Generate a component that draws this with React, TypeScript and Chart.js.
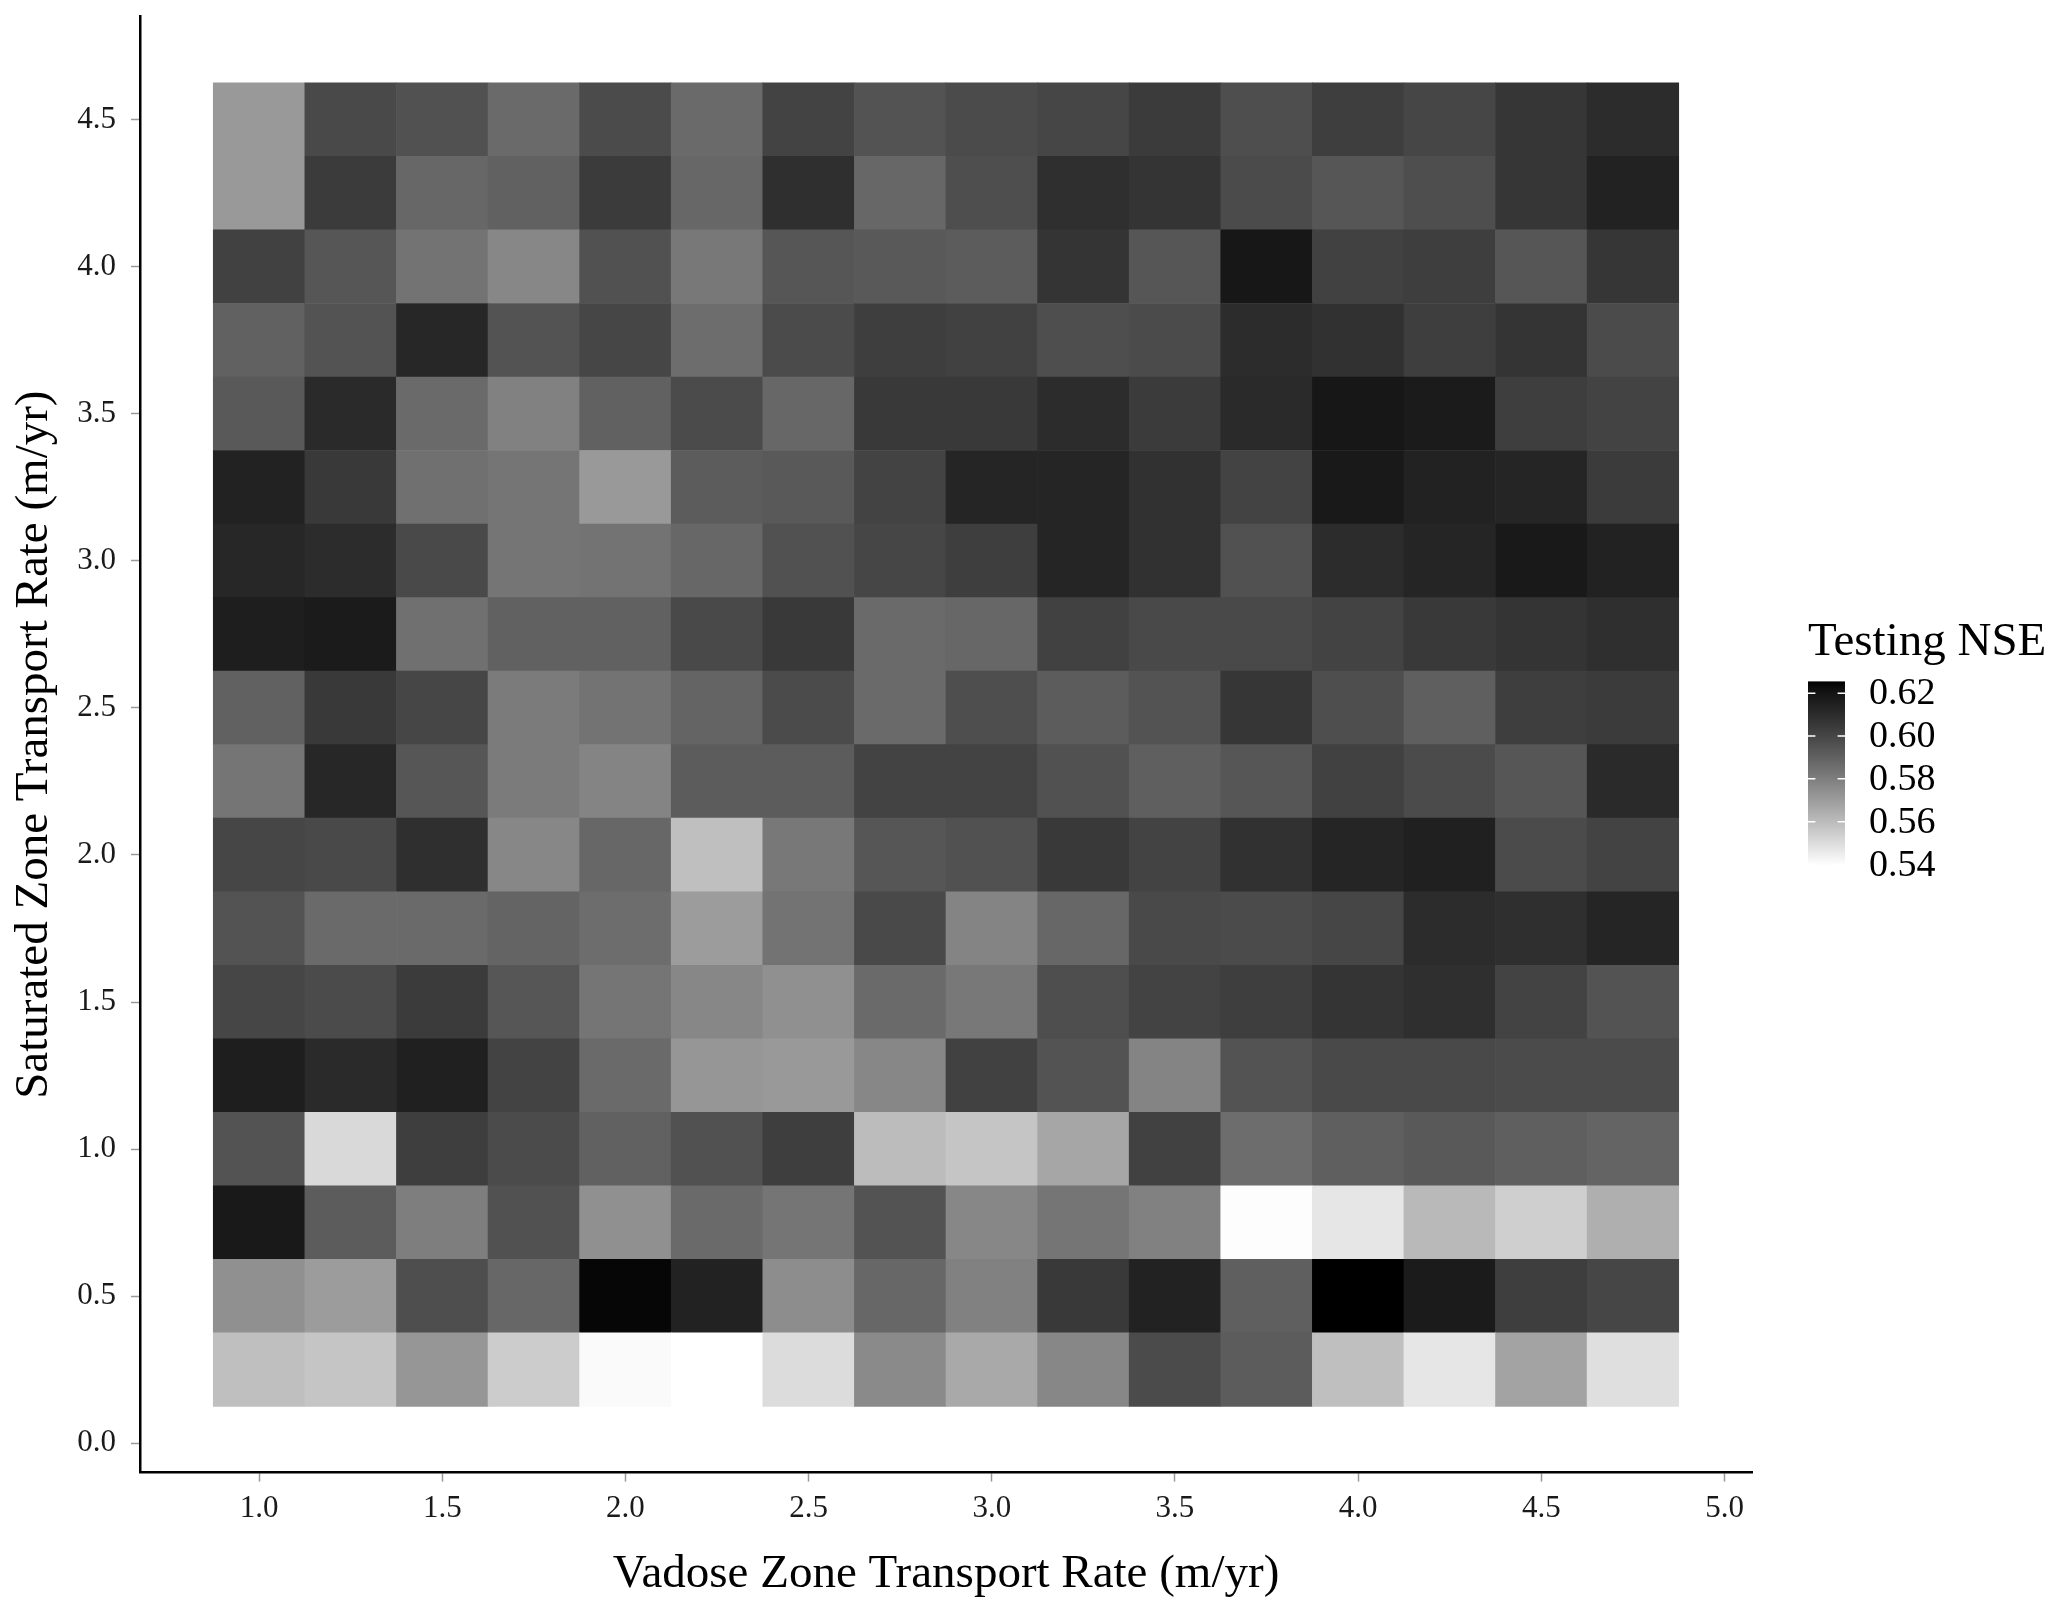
import React, { useEffect, useRef } from "react";
import { Chart, registerables } from "chart.js";

Chart.register(...registerables);

// ---- data ----
const VADOSE_RATES = [1.0, 1.25, 1.5, 1.75, 2.0, 2.25, 2.5, 2.75, 3.0, 3.25, 3.5, 3.75, 4.0, 4.25, 4.5, 4.75];
const SATURATED_RATES = [4.5, 4.25, 4.0, 3.75, 3.5, 3.25, 3.0, 2.75, 2.5, 2.25, 2.0, 1.75, 1.5, 1.25, 1.0, 0.75, 0.5, 0.25];

const NSE_SAT_450 = [0.571, 0.599, 0.596, 0.587, 0.598, 0.587, 0.601, 0.595, 0.598, 0.600, 0.604, 0.597, 0.603, 0.600, 0.606, 0.610];
const NSE_SAT_425 = [0.571, 0.604, 0.588, 0.590, 0.604, 0.588, 0.609, 0.588, 0.597, 0.609, 0.607, 0.598, 0.594, 0.597, 0.606, 0.614];
const NSE_SAT_400 = [0.602, 0.594, 0.584, 0.577, 0.596, 0.582, 0.594, 0.593, 0.592, 0.607, 0.594, 0.619, 0.602, 0.603, 0.594, 0.606];
const NSE_SAT_375 = [0.590, 0.595, 0.612, 0.595, 0.600, 0.586, 0.598, 0.603, 0.602, 0.597, 0.598, 0.610, 0.608, 0.603, 0.607, 0.598];
const NSE_SAT_350 = [0.593, 0.611, 0.587, 0.579, 0.590, 0.598, 0.588, 0.605, 0.605, 0.610, 0.604, 0.611, 0.619, 0.617, 0.603, 0.601];
const NSE_SAT_325 = [0.614, 0.605, 0.585, 0.583, 0.571, 0.592, 0.593, 0.601, 0.613, 0.613, 0.608, 0.601, 0.618, 0.614, 0.613, 0.604];
const NSE_SAT_300 = [0.612, 0.610, 0.599, 0.583, 0.584, 0.588, 0.596, 0.600, 0.603, 0.613, 0.608, 0.596, 0.610, 0.613, 0.618, 0.614];
const NSE_SAT_275 = [0.616, 0.617, 0.585, 0.590, 0.590, 0.599, 0.605, 0.587, 0.588, 0.602, 0.599, 0.599, 0.601, 0.605, 0.607, 0.609];
const NSE_SAT_250 = [0.590, 0.605, 0.600, 0.581, 0.584, 0.589, 0.598, 0.587, 0.597, 0.592, 0.595, 0.606, 0.597, 0.591, 0.603, 0.604];
const NSE_SAT_225 = [0.583, 0.612, 0.594, 0.581, 0.578, 0.592, 0.592, 0.601, 0.601, 0.596, 0.591, 0.594, 0.602, 0.598, 0.594, 0.611];
const NSE_SAT_200 = [0.600, 0.599, 0.609, 0.577, 0.588, 0.559, 0.582, 0.594, 0.596, 0.605, 0.601, 0.608, 0.613, 0.615, 0.598, 0.601];
const NSE_SAT_175 = [0.595, 0.587, 0.587, 0.589, 0.586, 0.570, 0.584, 0.599, 0.578, 0.588, 0.599, 0.598, 0.600, 0.610, 0.609, 0.613];
const NSE_SAT_150 = [0.600, 0.598, 0.604, 0.594, 0.583, 0.577, 0.574, 0.587, 0.582, 0.597, 0.601, 0.603, 0.607, 0.609, 0.601, 0.595];
const NSE_SAT_125 = [0.616, 0.611, 0.615, 0.601, 0.587, 0.572, 0.571, 0.577, 0.602, 0.595, 0.578, 0.595, 0.599, 0.599, 0.598, 0.598];
const NSE_SAT_100 = [0.595, 0.551, 0.603, 0.598, 0.590, 0.596, 0.603, 0.560, 0.557, 0.567, 0.602, 0.586, 0.591, 0.593, 0.591, 0.589];
const NSE_SAT_075 = [0.618, 0.592, 0.580, 0.596, 0.574, 0.587, 0.583, 0.595, 0.577, 0.583, 0.579, 0.540, 0.547, 0.561, 0.554, 0.564];
const NSE_SAT_050 = [0.574, 0.570, 0.597, 0.588, 0.624, 0.614, 0.575, 0.588, 0.579, 0.605, 0.614, 0.591, 0.6255, 0.617, 0.603, 0.600];
const NSE_SAT_025 = [0.559, 0.557, 0.572, 0.555, 0.541, 0.5395, 0.550, 0.576, 0.566, 0.577, 0.598, 0.592, 0.559, 0.547, 0.568, 0.549];

const NSE_ROWS = [
  NSE_SAT_450, NSE_SAT_425, NSE_SAT_400, NSE_SAT_375, NSE_SAT_350, NSE_SAT_325,
  NSE_SAT_300, NSE_SAT_275, NSE_SAT_250, NSE_SAT_225, NSE_SAT_200, NSE_SAT_175,
  NSE_SAT_150, NSE_SAT_125, NSE_SAT_100, NSE_SAT_075, NSE_SAT_050, NSE_SAT_025,
];

const X_TICKS = [1.0, 1.5, 2.0, 2.5, 3.0, 3.5, 4.0, 4.5, 5.0];
const Y_TICKS = [0.0, 0.5, 1.0, 1.5, 2.0, 2.5, 3.0, 3.5, 4.0, 4.5];
const LEGEND_TICKS = [0.54, 0.56, 0.58, 0.6, 0.62];

const X_TITLE = "Vadose Zone Transport Rate (m/yr)";
const Y_TITLE = "Saturated Zone Transport Rate (m/yr)";
const LEGEND_TITLE = "Testing NSE";

const FONT = "'Liberation Serif', 'Times New Roman', serif";

// white -> black gradient interpolated in Lab space (as ggplot does)
function grayFor(v: number, vmin: number, vmax: number): string {
  const t = Math.min(1, Math.max(0, (v - vmin) / (vmax - vmin)));
  const L = 100 * (1 - t);
  const fy = (L + 16) / 116;
  const Y = L > 8 ? fy * fy * fy : L / 903.3;
  const s = Y <= 0.0031308 ? 12.92 * Y : 1.055 * Math.pow(Y, 1 / 2.4) - 0.055;
  const g = Math.round(255 * Math.min(1, Math.max(0, s)));
  return `rgb(${g},${g},${g})`;
}

export default function App() {
  const ref = useRef<HTMLCanvasElement | null>(null);

  useEffect(() => {
    const canvas = ref.current;
    if (!canvas) return;

    const allVals = NSE_ROWS.flat();
    const vmin = Math.min(...allVals);
    const vmax = Math.max(...allVals);

    const hx = (VADOSE_RATES[1] - VADOSE_RATES[0]) / 2;
    const hy = (SATURATED_RATES[0] - SATURATED_RATES[1]) / 2;
    const xLo = Math.min(...VADOSE_RATES) - hx;
    const xHi = Math.max(...VADOSE_RATES) + hx;
    const yLo = Math.min(...SATURATED_RATES) - hy;
    const yHi = Math.max(...SATURATED_RATES) + hy;
    const xPad = 0.05 * (xHi - xLo);
    const yPad = 0.05 * (yHi - yLo);

    const points: { x: number; y: [number, number] }[] = [];
    const colors: string[] = [];
    SATURATED_RATES.forEach((sy, r) => {
      VADOSE_RATES.forEach((vx, c) => {
        points.push({ x: vx, y: [sy - hy, sy + hy] });
        colors.push(grayFor(NSE_ROWS[r][c], vmin, vmax));
      });
    });

    const colorbarPlugin = {
      id: "colorbar",
      afterDraw(chart: any) {
        const ctx = chart.ctx as CanvasRenderingContext2D;
        const barLeft = 1808;
        const barRight = 1845;
        const barTop = 681.4;
        const barBottom = 865.6;
        const yFor = (v: number) => barBottom - ((v - vmin) / (vmax - vmin)) * (barBottom - barTop);
        ctx.save();
        for (let py = Math.floor(barTop); py < Math.ceil(barBottom); py++) {
          const v = vmin + ((barBottom - (py + 0.5)) / (barBottom - barTop)) * (vmax - vmin);
          ctx.fillStyle = grayFor(v, vmin, vmax);
          const y0 = Math.max(py, barTop);
          const y1 = Math.min(py + 1, barBottom);
          ctx.fillRect(barLeft, y0, barRight - barLeft, y1 - y0 + 0.3);
        }
        const tickLen = (barRight - barLeft) / 5;
        ctx.strokeStyle = "#ffffff";
        ctx.lineWidth = 1.5;
        ctx.fillStyle = "#000000";
        ctx.font = `38px ${FONT}`;
        ctx.textAlign = "left";
        ctx.textBaseline = "middle";
        LEGEND_TICKS.forEach((t) => {
          const y = yFor(t);
          ctx.beginPath();
          ctx.moveTo(barLeft, y);
          ctx.lineTo(barLeft + tickLen, y);
          ctx.moveTo(barRight - tickLen, y);
          ctx.lineTo(barRight, y);
          ctx.stroke();
          ctx.fillText(t.toFixed(2), 1869, y + 1);
        });
        ctx.font = `47px ${FONT}`;
        ctx.textBaseline = "alphabetic";
        ctx.fillText(LEGEND_TITLE, 1808, 655);
        ctx.restore();
      },
    };

    const chart = new Chart(canvas, {
      type: "bar",
      data: {
        datasets: [
          {
            data: points as any,
            backgroundColor: colors,
            borderWidth: 0,
            barPercentage: 1,
            categoryPercentage: 1,
            grouped: false,
          } as any,
        ],
      },
      options: {
        animation: false,
        responsive: false,
        maintainAspectRatio: false,
        devicePixelRatio: 1,
        layout: { padding: { left: 0, top: 16.7, right: 315, bottom: 0 } },
        plugins: { legend: { display: false }, tooltip: { enabled: false } },
        scales: {
          x: {
            type: "linear",
            min: xLo - xPad,
            max: xHi + xPad,
            offset: false,
            afterBuildTicks: (s: any) => {
              s.ticks = X_TICKS.map((v) => ({ value: v }));
            },
            afterFit: (s: any) => {
              s.height = 146.4;
              s.paddingLeft = 0;
              s.paddingRight = 0;
            },
            grid: {
              display: true,
              drawOnChartArea: false,
              drawTicks: true,
              tickLength: 9,
              tickWidth: 1.5,
              tickColor: "#9a9a9a",
              offset: false,
            },
            border: { display: true, color: "#000000", width: 2.5 },
            ticks: {
              padding: 9,
              color: "#1a1a1a",
              font: { family: FONT, size: 31 },
              maxRotation: 0,
              autoSkip: false,
              callback: (v: any) => Number(v).toFixed(1),
            },
            title: {
              display: true,
              text: X_TITLE,
              color: "#000000",
              font: { family: FONT, size: 47 },
              padding: { top: 0, bottom: 16 },
            },
          },
          y: {
            type: "linear",
            min: yLo - yPad,
            max: yHi + yPad,
            beginAtZero: false,
            afterBuildTicks: (s: any) => {
              s.ticks = Y_TICKS.map((v) => ({ value: v }));
            },
            afterFit: (s: any) => {
              s.width = 140;
              s.paddingTop = 0;
              s.paddingBottom = 0;
            },
            grid: {
              display: true,
              drawOnChartArea: false,
              drawTicks: true,
              tickLength: 9,
              tickWidth: 1.5,
              tickColor: "#9a9a9a",
            },
            border: { display: true, color: "#000000", width: 2.5 },
            ticks: {
              padding: 15,
              color: "#1a1a1a",
              font: { family: FONT, size: 31 },
              autoSkip: false,
              callback: (v: any) => Number(v).toFixed(1),
            },
            title: {
              display: true,
              text: Y_TITLE,
              color: "#000000",
              font: { family: FONT, size: 47 },
              padding: { top: 6, bottom: 0 },
            },
          },
        },
      } as any,
      plugins: [colorbarPlugin],
    });

    return () => chart.destroy();
  }, []);

  return (
    <div style={{ position: "fixed", left: 0, top: 0, width: 2067, height: 1619, background: "#ffffff" }}>
      <canvas ref={ref} width={2067} height={1619} style={{ display: "block", width: 2067, height: 1619 }} />
    </div>
  );
}
